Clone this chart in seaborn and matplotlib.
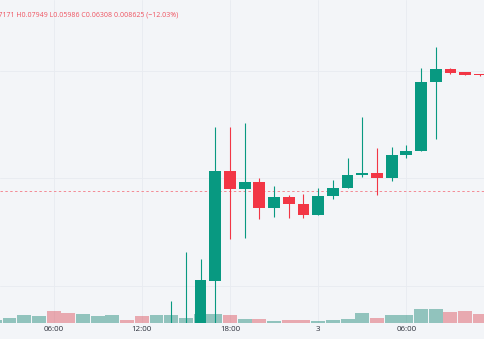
import matplotlib
matplotlib.use('Agg')
import matplotlib.pyplot as plt
from matplotlib.patches import Rectangle
import seaborn as sns
import numpy as np
import pandas as pd

# hourly candles, 02:00 day 1 -> 11:00 day 2 (first ones sit below the visible price range)
hours = ['02:00', '03:00', '04:00', '05:00', '06:00', '07:00', '08:00', '09:00', '10:00', '11:00',
         '12:00', '13:00', '14:00', '15:00', '16:00', '17:00', '18:00', '19:00', '20:00', '21:00',
         '22:00', '23:00', '00:00', '01:00', '02:00', '03:00', '04:00', '05:00', '06:00', '07:00',
         '08:00', '09:00', '10:00', '11:00']
nan = np.nan
opens = [nan] * 12 + [0.04768, 0.04818, 0.04868, 0.05411, 0.06511, 0.06331, 0.06395, 0.06135,
                      0.06245, 0.06181, 0.06071, 0.06258, 0.06335, 0.06468, 0.06491, 0.06438,
                      0.06668, 0.06711, 0.07395, 0.07528, 0.07495, 0.07478]
highs = [nan] * 12 + [0.05211, 0.05701, 0.05628, 0.06945, 0.06945, 0.06985, 0.06441, 0.06358,
                      0.06268, 0.06275, 0.06335, 0.06418, 0.06635, 0.07051, 0.06735, 0.06751,
                      0.06768, 0.07541, 0.07751, 0.07538, 0.07498, 0.07482]
lows = [nan] * 12 + [0.04718, 0.04738, 0.04768, 0.04918, 0.05825, 0.05841, 0.06028, 0.06051,
                     0.06041, 0.06041, 0.06071, 0.06225, 0.06335, 0.06451, 0.06268, 0.06408,
                     0.06635, 0.06711, 0.06828, 0.07481, 0.07468, 0.07458]
closes = [nan] * 12 + [0.04868, 0.04918, 0.05418, 0.06511, 0.06331, 0.06398, 0.06135, 0.06245,
                       0.06178, 0.06071, 0.06258, 0.06338, 0.06468, 0.06491, 0.06438, 0.06671,
                       0.06711, 0.07401, 0.07528, 0.07491, 0.07471, 0.07464]
volume = [3300, 5300, 7600, 7300, 12300, 10300, 8800, 6800, 8300, 3300,
          6800, 8300, 7600, 5000, 9000, 9300, 7600, 3600, 3600, 2300,
          3300, 3300, 2300, 3300, 4300, 10000, 5300, 8000, 8000, 14000,
          13600, 10600, 11600, 9300]
vol_dir = ['up', 'up', 'up', 'up', 'down', 'down', 'up', 'up', 'up', 'down',
           'down', 'up', 'up', 'up', 'up', 'up', 'down', 'up', 'down', 'up',
           'down', 'down', 'up', 'up', 'up', 'up', 'down', 'up', 'up', 'up',
           'up', 'down', 'down', 'down']
tick_idx = [4, 10, 16, 22, 28]
tick_labels = ['06:00', '12:00', '18:00', '3', '06:00']
grid_levels = [0.05363, 0.06438, 0.07511]
last_price = 0.06308
header = 'O0.07171 H0.07949 L0.05986 C0.06308 0.008625 (\u221212.03%)'

up_col = '#089981'
down_col = '#f23645'
bg = '#f3f5f8'

df = pd.DataFrame({'hour': hours, 'open': opens, 'high': highs, 'low': lows,
                   'close': closes, 'volume': volume, 'dir': vol_dir})
df['i'] = np.arange(len(df))

sns.set_style('white')
plt.rcParams['font.family'] = ['Open Sans', 'DejaVu Sans']

fig = plt.figure(figsize=(4.85, 3.6), dpi=100)
fig.patch.set_facecolor(bg)
# white strip under the time axis
fig.patches.append(Rectangle((0, 0), 1, 21 / 360, transform=fig.transFigure,
                             facecolor='white', edgecolor='none', zorder=-1))

xlim = (0.354, 33.35)

# volume in the back axes, price on a transparent twin on top
ax_vol = fig.add_axes([0, 37 / 360, 1, 323 / 360])
ax_vol.set_facecolor(bg)
sns.barplot(data=df, x='i', y='volume', hue='dir', palette={'up': up_col, 'down': down_col},
            dodge=False, width=0.95, alpha=0.45, legend=False, ax=ax_vol, linewidth=0)
ax_vol.set_ylim(0, 323300)
ax_vol.set_xlim(*xlim)
ax_vol.set_xticks(tick_idx)
ax_vol.set_xticklabels(tick_labels)
ax_vol.set_yticks([])
ax_vol.set_xlabel('')
ax_vol.set_ylabel('')
ax_vol.tick_params(axis='x', length=0, pad=2.3, labelsize=5.7, labelcolor='#2a2e39')
ax_vol.grid(axis='x', color='#e8ebf0', linewidth=0.6)
ax_vol.set_axisbelow(True)
for s in ax_vol.spines.values():
    s.set_visible(False)

ax = ax_vol.twinx()
ax.set_ylim(0.04988, 0.08218)
ax.set_xlim(*xlim)
ax.set_yticks(grid_levels)
ax.tick_params(axis='y', length=0, labelright=False, labelleft=False)
ax.grid(axis='y', color='#e8ebf0', linewidth=0.6)
for s in ax.spines.values():
    s.set_visible(False)

c = df.dropna()
colors = np.where(c['close'] >= c['open'], up_col, down_col)
ax.vlines(c['i'], c['low'], c['high'], colors=colors, linewidth=0.8, zorder=3)
bottom = np.minimum(c['open'], c['close'])
height = np.maximum(np.abs(c['close'] - c['open']), 0.0001)
ax.bar(c['i'], height, bottom=bottom, width=0.8, color=colors, linewidth=0, zorder=4)
ax.axhline(last_price, color='#f38a94', linewidth=0.7, linestyle=(0, (2.5, 2.5)), zorder=2)

fig.text(178 / 485, 1 - 15 / 360, header, ha='right', va='center', fontsize=5.0,
         color='#ef5360')

fig.savefig('out.png', dpi=100, facecolor=bg)
